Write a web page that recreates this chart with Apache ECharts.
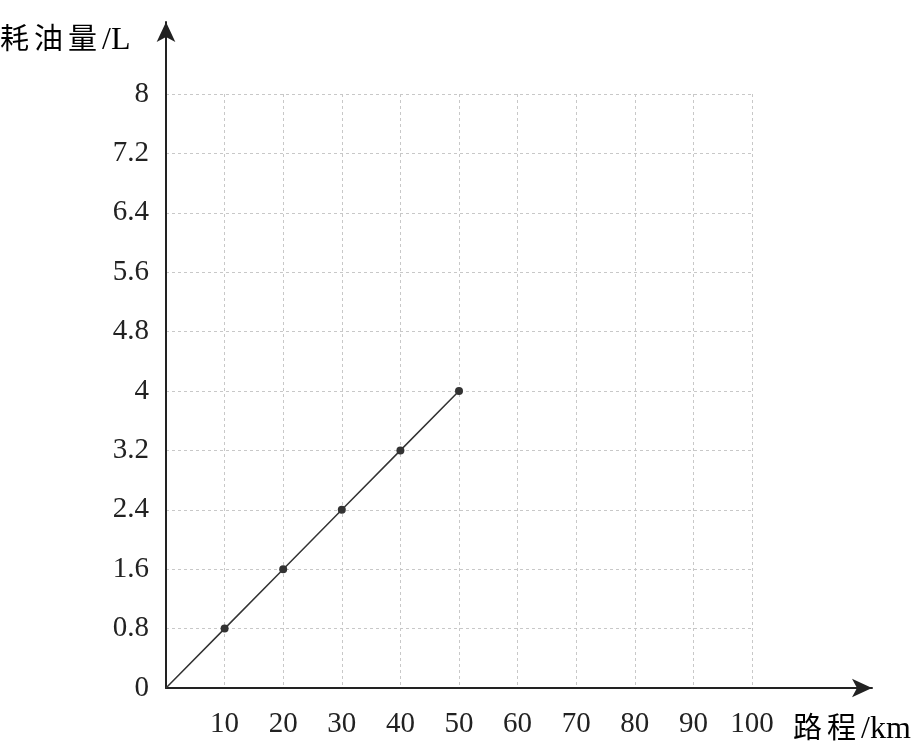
<!DOCTYPE html>
<html>
<head>
<meta charset="utf-8">
<script src="https://cdn.jsdelivr.net/npm/echarts@6/dist/echarts.min.js"></script>
<style>html,body{margin:0;padding:0;background:#fff}#c{width:920px;height:754px}</style>
</head>
<body>
<div id="c"></div>
<script>
const distances = [0, 10, 20, 30, 40, 50];
const fuel = [0, 0.8, 1.6, 2.4, 3.2, 4];
const xTickLabels = ['', '10', '20', '30', '40', '50', '60', '70', '80', '90', '100'];
const yTickLabels = ['0', '0.8', '1.6', '2.4', '3.2', '4', '4.8', '5.6', '6.4', '7.2', '8'];
const yNameCjk = '耗油量', yNameUnit = '/L';
const xNameCjk = '路程', xNameUnit = '/km';

const numFont = '"Liberation Serif","DejaVu Serif",serif';
const cjkFont = '"Noto Sans CJK SC","Liberation Serif",serif';
const ink = '#222';

const chart = echarts.init(document.getElementById('c'), null, {renderer: 'canvas'});
const richName = {
  c: {fontFamily: cjkFont, fontSize: 29, color: ink, padding: [0, 5, 0, 0], lineHeight: 36, verticalAlign: 'middle'},
  u: {fontFamily: numFont, fontSize: 32, color: ink, padding: [7, 0, 0, 0], lineHeight: 36, verticalAlign: 'middle'}
};
const richText = (cjk, unit) => cjk.split('').map(ch => '{c|' + ch + '}').join('') + '{u|' + unit + '}';
chart.setOption({
  backgroundColor: '#fff',
  animation: false,
  grid: [
    {left: 166, right: 168, top: 94, bottom: 66},
    {left: 166, right: 48, top: 22, bottom: 66}
  ],
  xAxis: [
    {
      type: 'value', gridIndex: 0, min: 0, max: 100, interval: 10,
      axisLine: {show: false}, axisTick: {show: false},
      axisLabel: {
        color: ink, fontFamily: numFont, fontSize: 29, margin: 22,
        formatter: v => xTickLabels[Math.round(v / 10)]
      },
      splitLine: {show: true, lineStyle: {color: '#c8c8c8', type: [3, 3], width: 1}}
    },
    {
      type: 'value', gridIndex: 1, min: 0, max: 1,
      axisLine: {show: true, onZero: false, symbol: ['none', 'arrow'], symbolSize: [14, 20], lineStyle: {color: ink, width: 2}},
      axisTick: {show: false}, axisLabel: {show: false}, splitLine: {show: false}
    }
  ],
  yAxis: [
    {
      type: 'value', gridIndex: 0, min: 0, max: 8, interval: 0.8,
      axisLine: {show: false}, axisTick: {show: false},
      axisLabel: {
        color: ink, fontFamily: numFont, fontSize: 29, margin: 17,
        formatter: v => yTickLabels[Math.round(v / 0.8)]
      },
      splitLine: {show: true, lineStyle: {color: '#c8c8c8', type: [3, 3], width: 1}}
    },
    {
      type: 'value', gridIndex: 1, min: 0, max: 1,
      axisLine: {show: true, onZero: false, symbol: ['none', 'arrow'], symbolSize: [14, 20], lineStyle: {color: ink, width: 2}},
      axisTick: {show: false}, axisLabel: {show: false}, splitLine: {show: false}
    }
  ],
  graphic: [
    {type: 'text', left: 0, top: 18, style: {text: richText(yNameCjk, yNameUnit), rich: richName}},
    {type: 'text', left: 793, top: 707, style: {text: richText(xNameCjk, xNameUnit), rich: richName}}
  ],
  series: [{
    type: 'line',
    xAxisIndex: 0, yAxisIndex: 0,
    data: distances.map((d, i) => [d, fuel[i]]),
    lineStyle: {color: '#333', width: 1.5},
    itemStyle: {color: '#333'},
    symbol: 'circle',
    symbolSize: (val) => val[0] === 0 ? 0 : 8,
    showSymbol: true
  }]
});
</script>
</body>
</html>
